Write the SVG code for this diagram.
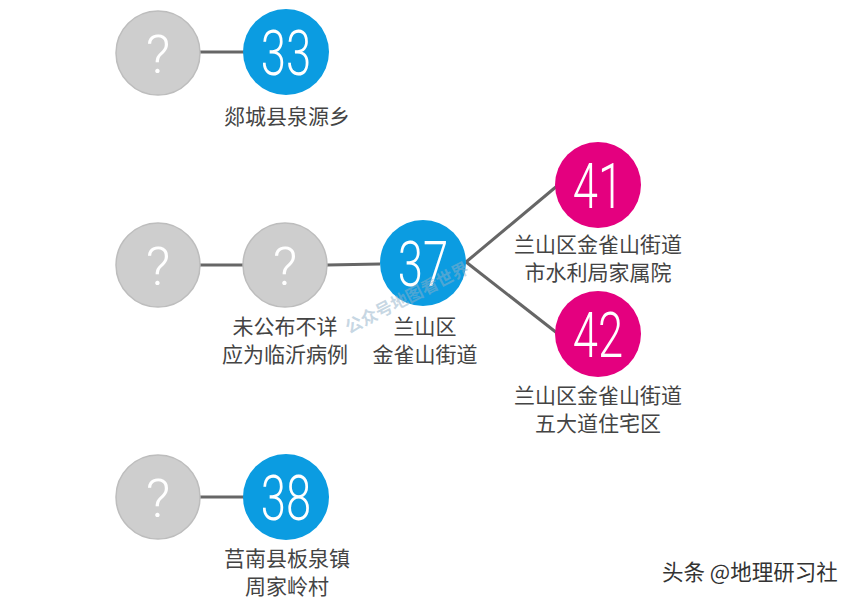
<svg xmlns="http://www.w3.org/2000/svg" width="858" height="599" viewBox="0 0 858 599">
<style>
.gray{fill:#cecece;stroke:#bdbdbd;stroke-width:1.5}
.blue{fill:#0b9ce1}
.pink{fill:#e4007f}
.q{font-family:Roboto,"Liberation Sans",sans-serif;font-weight:300;font-size:54px;fill:#fff;text-anchor:middle}
.num{font-family:Roboto,"Liberation Sans",sans-serif;font-weight:300;font-size:63px;fill:#fff;text-anchor:middle}
.lbl{font-family:"Noto Sans CJK SC","Noto Sans",sans-serif;font-size:21px;fill:#444;text-anchor:middle}
.edge{stroke:#666;stroke-width:3;fill:none}
</style>
<rect width="858" height="599" fill="#fff"/>
<g id="connectors">
<line class="edge" x1="200" y1="52" x2="244" y2="52"/>
<line class="edge" x1="200" y1="265" x2="243" y2="265"/>
<line class="edge" x1="327" y1="265" x2="380" y2="264"/>
<line class="edge" x1="466" y1="262" x2="557" y2="186"/>
<line class="edge" x1="466" y1="262" x2="557" y2="333"/>
<line class="edge" x1="200" y1="497" x2="244" y2="497"/>
</g>
<g id="n-unknown-a">
<circle class="gray" cx="158" cy="53" r="42"/>
<text class="q" x="158" y="73">?</text>
</g>
<g id="n33">
<circle class="blue" cx="286" cy="52" r="43"/>
<text class="num" transform="translate(286,75) scale(0.72,1)">33</text>
<text class="lbl" x="287" y="124">郯城县泉源乡</text>
</g>
<g id="n-unknown-b">
<circle class="gray" cx="158" cy="265" r="42"/>
<text class="q" x="158" y="285">?</text>
</g>
<g id="n-unknown-c">
<circle class="gray" cx="285" cy="265" r="42"/>
<text class="q" x="285" y="285">?</text>
<text class="lbl" x="285" y="334">未公布不详</text>
<text class="lbl" x="285" y="362">应为临沂病例</text>
</g>
<g id="n37">
<circle class="blue" cx="423" cy="263" r="43"/>
<text class="num" transform="translate(423,286) scale(0.72,1)">37</text>
<text class="lbl" x="425" y="334">兰山区</text>
<text class="lbl" x="425" y="362">金雀山街道</text>
</g>
<g id="n41">
<circle class="pink" cx="598" cy="185" r="43"/>
<text class="num" transform="translate(598,208) scale(0.72,1)">41</text>
<text class="lbl" x="598" y="252">兰山区金雀山街道</text>
<text class="lbl" x="598" y="280">市水利局家属院</text>
</g>
<g id="n42">
<circle class="pink" cx="598" cy="334" r="43"/>
<text class="num" transform="translate(598,357) scale(0.72,1)">42</text>
<text class="lbl" x="598" y="403">兰山区金雀山街道</text>
<text class="lbl" x="598" y="431">五大道住宅区</text>
</g>
<g id="n-unknown-d">
<circle class="gray" cx="158" cy="497" r="42"/>
<text class="q" x="158" y="517">?</text>
</g>
<g id="n38">
<circle class="blue" cx="286" cy="497" r="43"/>
<text class="num" transform="translate(286,520) scale(0.72,1)">38</text>
<text class="lbl" x="287" y="566">莒南县板泉镇</text>
<text class="lbl" x="287" y="594">周家岭村</text>
</g>
<text transform="translate(349,334) rotate(-27)" font-family="'Noto Sans CJK SC',sans-serif" font-size="17" font-weight="bold" fill="#8fb0c8" fill-opacity="0.5">公众号地图看世界</text>
<text x="662" y="580" font-family="'Noto Sans CJK SC',sans-serif" font-size="21.5" fill="#fff" transform="translate(1,1)">头条 @地理研习社</text>
<text x="662" y="580" font-family="'Noto Sans CJK SC',sans-serif" font-size="21.5" fill="#333">头条 @地理研习社</text>
</svg>
